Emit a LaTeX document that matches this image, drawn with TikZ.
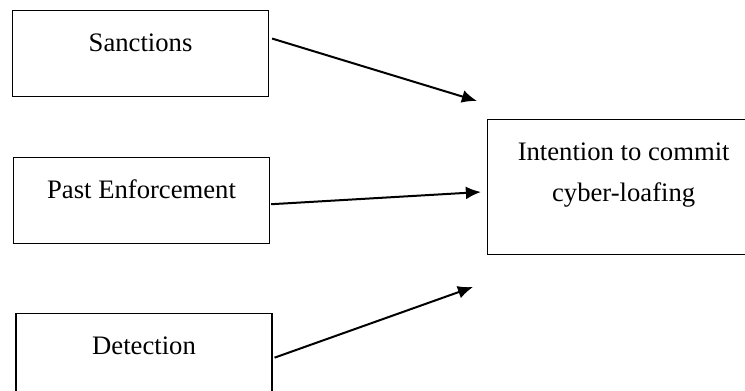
\documentclass[tikz,border=0pt]{standalone}
\usepackage{fontspec}
\setmainfont{Liberation Serif}
\usetikzlibrary{positioning,arrows.meta}

\begin{document}
\begin{tikzpicture}[x=0.45pt,y=-0.45pt,>={Latex[length=6.8pt,width=5.8pt]}, node distance=27pt]
    \tikzstyle{every node}=[font=\fontsize{12}{18.45}\selectfont];
    \tikzstyle{varbox}=[draw,line width=0.5pt,inner sep=0pt,minimum width=115.2pt,text height=18.45pt,text depth=20.25pt];
    \tikzstyle{link}=[->,line width=0.9pt];

    \clip (0,0) rectangle (745,391);

    \node[varbox,anchor=north west] (sanc) at (12,10) {Sanctions};
    \node[varbox] (past) [below=of sanc,xshift=0.45pt] {Past Enforcement};
    \node[varbox] (det) [below=31pt of past,xshift=1.1pt] {Detection};
    \node[varbox,align=center,minimum width=122.4pt,text height=36.9pt,text depth=23.85pt] (intent) [below right=9.9pt and 98.1pt of sanc] {Intention to commit\\cyber-loafing};

    \coordinate (t1) at (477,101);
    \coordinate (t2) at (481,192);
    \coordinate (t3) at (473,287);

    \draw[link] ([shift={(1.35pt,6.75pt)}]sanc.east) -- (t1);
    \draw[link] ([shift={(0.45pt,-1.6pt)}]past.east) -- (t2);
    \draw[link] ([shift={(0.9pt,-0.45pt)}]det.east) -- (t3);

\end{tikzpicture}
\end{document}
